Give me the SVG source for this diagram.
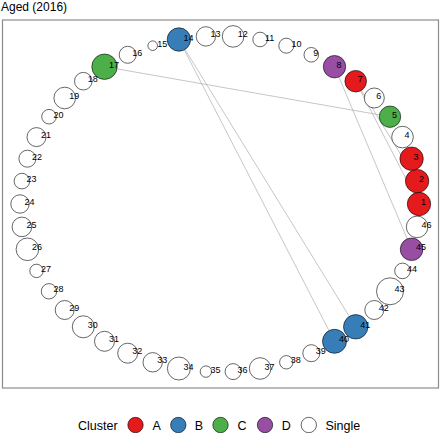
<svg xmlns="http://www.w3.org/2000/svg" width="440" height="433" viewBox="0 0 440 433">
<style>
text{font-family:"Liberation Sans",Arial,sans-serif;fill:#000}
.lb{font-size:9px;text-anchor:middle}
.nd{stroke:#000;stroke-width:0.6}
.s{fill:#fff}.a{fill:#E41A1C}.b{fill:#377EB8}.c{fill:#4DAF4A}.d{fill:#984EA3}
.e{stroke:#a0a0a0;stroke-width:0.6;fill:none}
.lg{font-size:12.5px}
</style>
<rect width="440" height="433" fill="#fff"/>
<text x="1" y="10.8" style="font-size:12px">Aged (2016)</text>
<rect x="2.5" y="20" width="436" height="368" fill="none" stroke="#8c8c8c" stroke-width="1.2"/>
<g id="connectors">
<line class="e" x1="104.5" y1="66.7" x2="390.0" y2="116.7"/>
<line class="e" x1="178.9" y1="39.5" x2="334.5" y2="341.3"/>
<line class="e" x1="178.9" y1="39.5" x2="355.7" y2="326.8"/>
<line class="e" x1="334.5" y1="66.7" x2="411.6" y2="249.3"/>
<line class="e" x1="355.7" y1="81.2" x2="419.0" y2="204.0"/>
<line class="e" x1="355.7" y1="81.2" x2="417.1" y2="181.1"/>
</g>
<g id="n1"><circle class="nd a" cx="419.0" cy="204.0" r="11.7"/><text class="lb" x="423.5" y="205">1</text></g>
<g id="n2"><circle class="nd a" cx="417.1" cy="181.1" r="11.7"/><text class="lb" x="421.6" y="182.1">2</text></g>
<g id="n3"><circle class="nd a" cx="411.6" cy="158.7" r="11.7"/><text class="lb" x="416.1" y="159.7">3</text></g>
<g id="n4"><circle class="nd s" cx="402.5" cy="137.1" r="10.8"/><text class="lb" x="407.0" y="138.1">4</text></g>
<g id="n5"><circle class="nd c" cx="390.0" cy="116.7" r="10.7"/><text class="lb" x="394.5" y="117.7">5</text></g>
<g id="n6"><circle class="nd s" cx="374.3" cy="98.0" r="10"/><text class="lb" x="378.8" y="99">6</text></g>
<g id="n7"><circle class="nd a" cx="355.7" cy="81.2" r="10.8"/><text class="lb" x="360.2" y="82.2">7</text></g>
<g id="n8"><circle class="nd d" cx="334.5" cy="66.7" r="11.2"/><text class="lb" x="339.0" y="67.7">8</text></g>
<g id="n9"><circle class="nd s" cx="311.3" cy="54.8" r="7.3"/><text class="lb" x="315.8" y="55.8">9</text></g>
<g id="n10"><circle class="nd s" cx="286.3" cy="45.7" r="7.5"/><text class="lb" x="296.5" y="46.7">10</text></g>
<g id="n11"><circle class="nd s" cx="260.1" cy="39.5" r="7.3"/><text class="lb" x="269.6" y="40.5">11</text></g>
<g id="n12"><circle class="nd s" cx="233.1" cy="36.4" r="10.8"/><text class="lb" x="242.8" y="37.4">12</text></g>
<g id="n13"><circle class="nd s" cx="205.9" cy="36.4" r="9.7"/><text class="lb" x="215.4" y="37.4">13</text></g>
<g id="n14"><circle class="nd b" cx="178.9" cy="39.5" r="11.7"/><text class="lb" x="188.4" y="40.5">14</text></g>
<g id="n15"><circle class="nd s" cx="152.7" cy="45.7" r="4.8"/><text class="lb" x="162.2" y="46.7">15</text></g>
<g id="n16"><circle class="nd s" cx="127.7" cy="54.8" r="8.5"/><text class="lb" x="137.2" y="55.8">16</text></g>
<g id="n17"><circle class="nd c" cx="104.5" cy="66.7" r="12.7"/><text class="lb" x="114.0" y="67.7">17</text></g>
<g id="n18"><circle class="nd s" cx="83.3" cy="81.2" r="8.8"/><text class="lb" x="92.8" y="82.2">18</text></g>
<g id="n19"><circle class="nd s" cx="64.7" cy="98.0" r="10.8"/><text class="lb" x="74.2" y="99">19</text></g>
<g id="n20"><circle class="nd s" cx="49.0" cy="116.7" r="7.3"/><text class="lb" x="58.5" y="117.7">20</text></g>
<g id="n21"><circle class="nd s" cx="36.5" cy="137.1" r="9.5"/><text class="lb" x="46.0" y="138.1">21</text></g>
<g id="n22"><circle class="nd s" cx="27.4" cy="158.7" r="8.5"/><text class="lb" x="36.9" y="159.7">22</text></g>
<g id="n23"><circle class="nd s" cx="21.9" cy="181.1" r="7.8"/><text class="lb" x="31.4" y="182.1">23</text></g>
<g id="n24"><circle class="nd s" cx="20.0" cy="204.0" r="9.2"/><text class="lb" x="29.5" y="205">24</text></g>
<g id="n25"><circle class="nd s" cx="21.9" cy="226.9" r="9.8"/><text class="lb" x="31.4" y="227.9">25</text></g>
<g id="n26"><circle class="nd s" cx="27.4" cy="249.3" r="11.3"/><text class="lb" x="36.9" y="250.3">26</text></g>
<g id="n27"><circle class="nd s" cx="36.5" cy="270.9" r="6.7"/><text class="lb" x="46.0" y="271.9">27</text></g>
<g id="n28"><circle class="nd s" cx="49.0" cy="291.3" r="7.7"/><text class="lb" x="58.5" y="292.3">28</text></g>
<g id="n29"><circle class="nd s" cx="64.7" cy="310.0" r="9.5"/><text class="lb" x="74.2" y="311">29</text></g>
<g id="n30"><circle class="nd s" cx="83.3" cy="326.8" r="11"/><text class="lb" x="92.8" y="327.8">30</text></g>
<g id="n31"><circle class="nd s" cx="104.5" cy="341.3" r="10"/><text class="lb" x="114.0" y="342.3">31</text></g>
<g id="n32"><circle class="nd s" cx="127.7" cy="353.2" r="10"/><text class="lb" x="137.2" y="354.2">32</text></g>
<g id="n33"><circle class="nd s" cx="152.7" cy="362.3" r="9.7"/><text class="lb" x="162.2" y="363.3">33</text></g>
<g id="n34"><circle class="nd s" cx="178.9" cy="368.5" r="11.5"/><text class="lb" x="188.4" y="369.5">34</text></g>
<g id="n35"><circle class="nd s" cx="205.9" cy="371.6" r="5.7"/><text class="lb" x="215.4" y="372.6">35</text></g>
<g id="n36"><circle class="nd s" cx="233.1" cy="371.6" r="8"/><text class="lb" x="242.6" y="372.6">36</text></g>
<g id="n37"><circle class="nd s" cx="260.1" cy="368.5" r="10.8"/><text class="lb" x="269.6" y="369.5">37</text></g>
<g id="n38"><circle class="nd s" cx="286.3" cy="362.3" r="6.7"/><text class="lb" x="295.8" y="363.3">38</text></g>
<g id="n39"><circle class="nd s" cx="311.3" cy="353.2" r="8.5"/><text class="lb" x="320.8" y="354.2">39</text></g>
<g id="n40"><circle class="nd b" cx="334.5" cy="341.3" r="12"/><text class="lb" x="344.0" y="342.3">40</text></g>
<g id="n41"><circle class="nd b" cx="355.7" cy="326.8" r="12.2"/><text class="lb" x="365.2" y="327.8">41</text></g>
<g id="n42"><circle class="nd s" cx="374.3" cy="310.0" r="9.5"/><text class="lb" x="383.8" y="311">42</text></g>
<g id="n43"><circle class="nd s" cx="390.0" cy="291.3" r="13.5"/><text class="lb" x="399.5" y="292.3">43</text></g>
<g id="n44"><circle class="nd s" cx="402.5" cy="270.9" r="7.8"/><text class="lb" x="412.0" y="271.9">44</text></g>
<g id="n45"><circle class="nd d" cx="411.6" cy="249.3" r="11.3"/><text class="lb" x="421.1" y="250.3">45</text></g>
<g id="n46"><circle class="nd s" cx="417.1" cy="226.9" r="10.8"/><text class="lb" x="426.6" y="227.9">46</text></g>
<g id="legend">
<text class="lg" x="78" y="429.5">Cluster</text>
<circle class="nd a" cx="135.5" cy="425" r="7.7"/><text class="lg" x="152.5" y="429.5">A</text>
<circle class="nd b" cx="178.3" cy="425" r="7.7"/><text class="lg" x="194.7" y="429.5">B</text>
<circle class="nd c" cx="220.5" cy="425" r="7.7"/><text class="lg" x="237.6" y="429.5">C</text>
<circle class="nd d" cx="265" cy="425" r="7.7"/><text class="lg" x="281.7" y="429.5">D</text>
<circle class="nd s" cx="308.8" cy="425" r="7.7"/><text class="lg" x="325.4" y="429.5">Single</text>
</g>
</svg>
